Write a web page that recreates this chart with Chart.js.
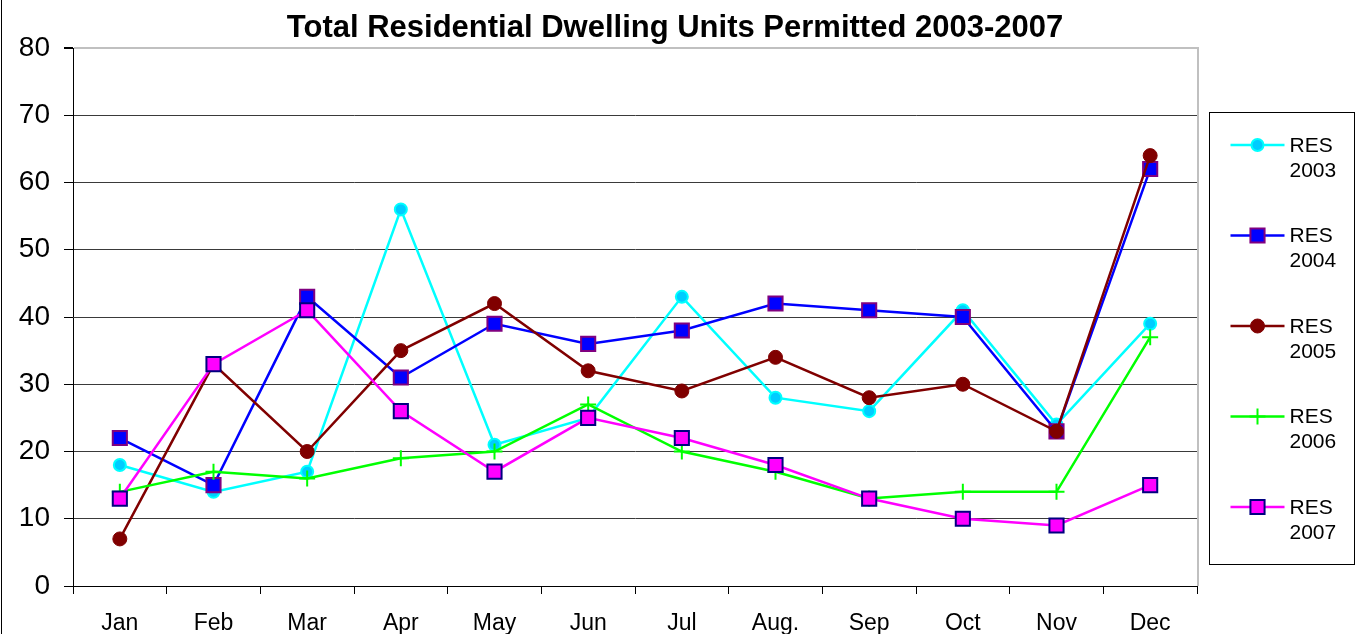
<!DOCTYPE html>
<html>
<head>
<meta charset="utf-8">
<title>Total Residential Dwelling Units Permitted 2003-2007</title>
<script src="https://cdn.jsdelivr.net/npm/chart.js@4.4.1/dist/chart.umd.min.js"></script>
<style>
  html, body { margin: 0; padding: 0; background: #fff; }
  #wrap { width: 1356px; height: 634px; }
</style>
</head>
<body>
<div id="wrap"><canvas id="chart" width="1356" height="634"></canvas></div>
<script>
// ---- Data ----
const chartTitle = "Total Residential Dwelling Units Permitted 2003-2007";
const months = ["Jan", "Feb", "Mar", "Apr", "May", "Jun", "Jul", "Aug.", "Sep", "Oct", "Nov", "Dec"];
const yTicks = [0, 10, 20, 30, 40, 50, 60, 70, 80];
const seriesLabels = ["RES 2003", "RES 2004", "RES 2005", "RES 2006", "RES 2007"];
const res2003 = [18, 14, 17, 56, 21, 25, 43, 28, 26, 41, 24, 39];
const res2004 = [22, 15, 43, 31, 39, 36, 38, 42, 41, 40, 23, 62];
const res2005 = [7, 33, 20, 35, 42, 32, 29, 34, 28, 30, 23, 64];
const res2006 = [14, 17, 16, 19, 20, 27, 20, 17, 13, 14, 14, 37];
const res2007 = [13, 33, 41, 26, 17, 25, 22, 18, 13, 10, 9, 15];

(function () {
  const FONT = '"Liberation Sans", Arial, Helvetica, sans-serif';

  // Excel-ish series styling: line colour, marker fill, marker border, marker shape.
  const looks = [
    { line: "#00ffff", fill: "#00ccff", edge: "#00ffff", shape: "circle", r: 6,  bw: 2 },
    { line: "#0000ff", fill: "#0000ff", edge: "#800080", shape: "rect",   r: 10, bw: 2 },
    { line: "#800000", fill: "#800000", edge: "#800000", shape: "circle", r: 7,  bw: 1 },
    { line: "#00ff00", fill: "#00ff00", edge: "#00ff00", shape: "cross",  r: 8,  bw: 2 },
    { line: "#ff00ff", fill: "#ff00ff", edge: "#000080", shape: "rect",   r: 10, bw: 2 },
  ];
  const values = [res2003, res2004, res2005, res2006, res2007];

  const datasets = values.map((v, i) => ({
    label: seriesLabels[i],
    data: v,
    borderColor: looks[i].line,
    borderWidth: 2.5,
    backgroundColor: looks[i].fill,
    pointStyle: looks[i].shape,
    pointRadius: looks[i].r,
    pointHoverRadius: looks[i].r,
    pointBackgroundColor: looks[i].fill,
    pointBorderColor: looks[i].edge,
    pointBorderWidth: looks[i].bw,
    tension: 0,
    fill: false,
    order: values.length - i, // later years drawn on top, like the original
  }));

  // ---- Title, plot frame and boxed legend ----
  const decor = {
    id: "decor",
    beforeDatasetsDraw(chart) {
      const { ctx, chartArea: a } = chart;
      ctx.save();
      ctx.strokeStyle = "#c0c0c0";
      ctx.lineWidth = 2;
      ctx.beginPath();
      ctx.moveTo(a.right + 1, a.top - 1);
      ctx.lineTo(a.right + 1, a.bottom);
      ctx.stroke();
      ctx.restore();
    },
    afterDraw(chart) {
      const { ctx, chartArea: a } = chart;
      ctx.save();

      // outer frame, only its left edge is inside the picture
      ctx.strokeStyle = "#000";
      ctx.lineWidth = 1;
      ctx.beginPath();
      ctx.moveTo(1.5, 0);
      ctx.lineTo(1.5, chart.height);
      ctx.stroke();

      // title
      ctx.fillStyle = "#000";
      ctx.font = "bold 31px " + FONT;
      ctx.textAlign = "center";
      ctx.textBaseline = "alphabetic";
      ctx.fillText(chartTitle, 675, 37);

      // legend box
      const lx = a.right + 12.5, ly = 112.5;
      ctx.strokeStyle = "#000";
      ctx.lineWidth = 1;
      ctx.strokeRect(lx, ly, 145, 452);

      ctx.font = "21px " + FONT;
      ctx.textAlign = "left";
      ctx.textBaseline = "middle";
      chart.data.datasets.forEach((ds, i) => {
        const y = 145 + i * 90.5;
        ctx.strokeStyle = ds.borderColor;
        ctx.lineWidth = ds.borderWidth;
        ctx.beginPath();
        ctx.moveTo(lx + 21, y);
        ctx.lineTo(lx + 75, y);
        ctx.stroke();

        ctx.fillStyle = ds.pointBackgroundColor;
        ctx.strokeStyle = ds.pointBorderColor;
        ctx.lineWidth = ds.pointBorderWidth;
        Chart.helpers.drawPoint(ctx, {
          pointStyle: ds.pointStyle,
          radius: ds.pointRadius,
          borderWidth: ds.pointBorderWidth,
          rotation: 0,
        }, lx + 48, y);

        ctx.fillStyle = "#000";
        const parts = ds.label.split(" ");
        ctx.fillText(parts[0], lx + 80, y + 1);
        ctx.fillText(parts[1], lx + 80, y + 26);
      });
      ctx.restore();
    },
  };

  new Chart(document.getElementById("chart"), {
    type: "line",
    data: { labels: months, datasets },
    plugins: [decor],
    options: {
      responsive: false,
      animation: false,
      devicePixelRatio: 1,
      layout: { padding: { top: 48, right: 159, left: 0, bottom: 0 } },
      plugins: {
        legend: { display: false },
        title: { display: false },
        tooltip: { enabled: false },
      },
      scales: {
        x: {
          offset: true,
          afterFit: s => { s.height = 48; },
          grid: {
            offset: true,
            drawOnChartArea: false,
            drawTicks: true,
            tickLength: 8,
            color: "#000",
          },
          border: { color: "#000", width: 1 },
          ticks: {
            color: "#000",
            font: { family: FONT, size: 23 },
            padding: 16,
            maxRotation: 0,
            autoSkip: false,
          },
        },
        y: {
          min: 0,
          max: 80,
          afterFit: s => { s.width = 73; },
          afterBuildTicks: s => { s.ticks = yTicks.map(v => ({ value: v })); },
          grid: {
            color: c => (c.tick.value === 80 ? "#c0c0c0" : c.tick.value === 0 ? "#000" : "#3a3a3a"),
            lineWidth: c => (c.tick.value === 80 ? 2 : 1),
            tickLength: 9,
            tickColor: "#000",
          },
          border: { color: "#000", width: 1 },
          ticks: {
            color: "#000",
            font: { family: FONT, size: 28 },
            padding: 14,
          },
        },
      },
    },
  });
})();
</script>
</body>
</html>
